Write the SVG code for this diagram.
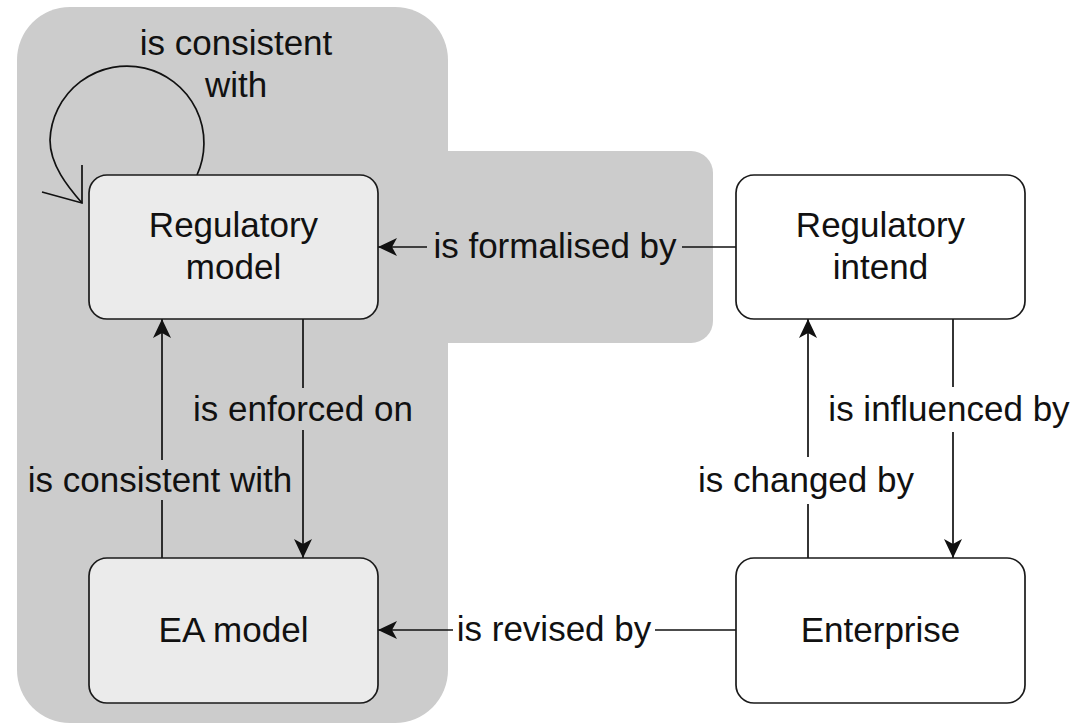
<svg xmlns="http://www.w3.org/2000/svg" width="1079" height="725" viewBox="0 0 1079 725">
  <style>
    .txt { font-family: "Liberation Sans", Arial, Helvetica, sans-serif; font-size: 35px; fill: #111; text-anchor: middle; }
    .node { stroke: #1a1a1a; stroke-width: 1.7; }
    .inner { fill: #ebebeb; }
    .outer { fill: #ffffff; }
    .edge { fill: none; stroke: #111; stroke-width: 1.7; }
    .zone { fill: #cccccc; }
  </style>
  <defs>
    <marker id="arrow" markerUnits="userSpaceOnUse" viewBox="-21 -11 23 22" markerWidth="23" markerHeight="22" refX="0" refY="0" orient="auto" overflow="visible">
      <path d="M0,0 L-19,-9 L-14,0 L-19,9 Z" fill="#111"/>
    </marker>
  </defs>

  <rect width="1079" height="725" fill="#ffffff"/>

  <!-- shaded model area -->
  <g id="model-area">
    <path class="zone" d="M420,151 H691 A22,22 0 0 1 713,173 V321 A22,22 0 0 1 691,343 H420 Z"/>
    <rect class="zone" x="17" y="7" width="431" height="716" rx="53" ry="53"/>
  </g>

  <!-- connectors -->
  <g id="connectors">
    <g id="e-formalised">
      <line class="edge" x1="736" y1="247" x2="682" y2="247"/>
      <line class="edge" x1="427" y1="247" x2="378" y2="247" marker-end="url(#arrow)"/>
      <text class="txt" x="555" y="258">is formalised by</text>
    </g>
    <g id="e-revised">
      <line class="edge" x1="736" y1="630" x2="655" y2="630"/>
      <line class="edge" x1="453" y1="630" x2="378" y2="630" marker-end="url(#arrow)"/>
      <text class="txt" x="554" y="641">is revised by</text>
    </g>
    <g id="e-enforced">
      <line class="edge" x1="303" y1="319" x2="303" y2="388"/>
      <line class="edge" x1="303" y1="430" x2="303" y2="558" marker-end="url(#arrow)"/>
      <text class="txt" x="303" y="421">is enforced on</text>
    </g>
    <g id="e-consistent">
      <line class="edge" x1="162" y1="558" x2="162" y2="500"/>
      <line class="edge" x1="162" y1="460" x2="162" y2="319" marker-end="url(#arrow)"/>
      <text class="txt" x="160" y="492">is consistent with</text>
    </g>
    <g id="e-changed">
      <line class="edge" x1="808" y1="558" x2="808" y2="504"/>
      <line class="edge" x1="808" y1="457" x2="808" y2="319" marker-end="url(#arrow)"/>
      <text class="txt" x="806" y="492">is changed by</text>
    </g>
    <g id="e-influenced">
      <line class="edge" x1="953" y1="319" x2="953" y2="387"/>
      <line class="edge" x1="953" y1="432" x2="953" y2="558" marker-end="url(#arrow)"/>
      <text class="txt" x="949" y="421">is influenced by</text>
    </g>
    <g id="e-self">
      <path class="edge" d="M197,175 A77,77 0 1 0 50,140 C50,165 68,187 82,203"/>
      <path class="edge" d="M82,165 L82,203 L42,192"/>
      <text class="txt" x="236" y="55">is consistent</text>
      <text class="txt" x="236" y="97">with</text>
    </g>
  </g>

  <!-- nodes -->
  <g id="regulatory-model">
    <rect class="node inner" x="89" y="175" width="289" height="144" rx="18" ry="18"/>
    <text class="txt" x="233.5" y="237">Regulatory</text>
    <text class="txt" x="233.5" y="279">model</text>
  </g>
  <g id="ea-model">
    <rect class="node inner" x="89" y="558" width="289" height="145" rx="18" ry="18"/>
    <text class="txt" x="233.5" y="642">EA model</text>
  </g>
  <g id="regulatory-intend">
    <rect class="node outer" x="736" y="175" width="289" height="144" rx="18" ry="18"/>
    <text class="txt" x="880.5" y="237">Regulatory</text>
    <text class="txt" x="880.5" y="279">intend</text>
  </g>
  <g id="enterprise">
    <rect class="node outer" x="736" y="558" width="289" height="145" rx="18" ry="18"/>
    <text class="txt" x="880.5" y="642">Enterprise</text>
  </g>
</svg>
